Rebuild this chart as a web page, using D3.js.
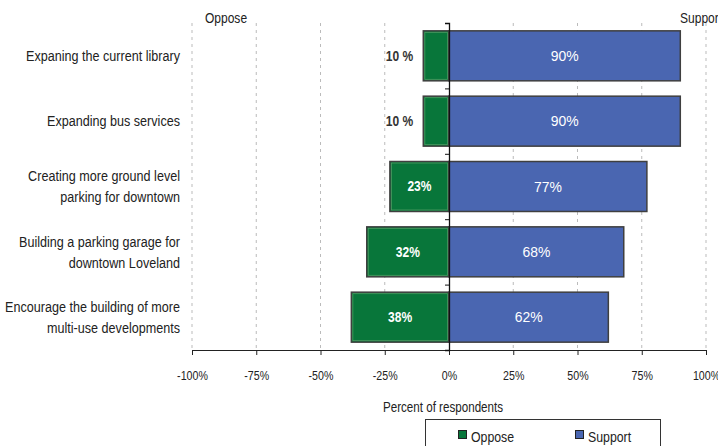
<!DOCTYPE html>
<html>
<head>
<meta charset="utf-8">
<script src="https://cdn.jsdelivr.net/npm/d3@7"></script>
<style>
body{margin:0;background:#fff}
text{font-family:"Liberation Sans",Arial,sans-serif;fill:#222}
</style>
</head>
<body>
<svg width="718" height="446"></svg>
<script>
// values
const categories = [
  ["Expaning the current library"],
  ["Expanding bus services"],
  ["Creating more ground level", "parking for downtown"],
  ["Building a parking garage for", "downtown Loveland"],
  ["Encourage the building of more", "multi-use developments"]
]
const oppose = [10, 10, 23, 32, 38]
const support = [90, 90, 77, 68, 62]
const tickValues = [-100, -75, -50, -25, 0, 25, 50, 75, 100]

const svg = d3.select("svg")
const plotTop = 23, plotBottom = 350, plotLeft = 192, plotRight = 706

const x = d3.scaleLinear().domain([-100, 100]).range([plotLeft, plotRight])
const y = d3.scaleBand().domain(d3.range(categories.length)).range([plotTop, plotBottom]).paddingInner(0.235).paddingOuter(0.12)

// the original text is squeezed sideways
function squeeze(px, py, s) { return `translate(${px},${py}) scale(${s},1)` }

// dashed gridlines
svg.append("g").selectAll("line")
  .data(tickValues.filter(d => d != 0))
  .join("line")
  .attr("x1", d => x(d)).attr("x2", d => x(d))
  .attr("y1", plotTop).attr("y2", plotBottom)
  .attr("stroke", "#bbb")
  .attr("stroke-dasharray", "3,4")

// bottom axis
const xAxis = d3.axisBottom(x).tickValues(tickValues).tickFormat(d => d + "%").tickSize(5).tickPadding(16)
const gx = svg.append("g").attr("transform", `translate(0,${plotBottom})`).call(xAxis)
gx.select(".domain").attr("stroke", "#222")
gx.selectAll(".tick line").attr("stroke", "#222")
gx.selectAll("text").style("font-size", "13px").attr("fill", "#222").attr("transform", "scale(0.82,1)")

// oppose bars
svg.append("g").selectAll("rect")
  .data(oppose)
  .join("rect")
  .attr("x", d => x(-d))
  .attr("y", (d, i) => y(i))
  .attr("width", d => x(0) - x(-d))
  .attr("height", y.bandwidth())
  .attr("fill", "#08763a")
  .attr("stroke", "#3f3f3f")
  .attr("stroke-width", 1.5)
svg.append("g").selectAll("rect")
  .data(oppose)
  .join("rect")
  .attr("x", d => x(-d) + 1.5)
  .attr("y", (d, i) => y(i) + 1.5)
  .attr("width", d => x(0) - x(-d) - 3)
  .attr("height", y.bandwidth() - 3)
  .attr("fill", "none")
  .attr("stroke", "#4f9a63")
  .attr("stroke-width", 0.8)

// support bars
svg.append("g").selectAll("rect")
  .data(support)
  .join("rect")
  .attr("x", x(0))
  .attr("y", (d, i) => y(i))
  .attr("width", d => x(d) - x(0))
  .attr("height", y.bandwidth())
  .attr("fill", "#4a66b1")
  .attr("stroke", "#3f3f3f")
  .attr("stroke-width", 1.5)

// zero line with category ticks
const yAxis = d3.axisLeft(d3.scaleLinear().domain([0, categories.length]).range([plotTop, plotBottom]))
  .ticks(categories.length).tickFormat("").tickSize(4)
const gy = svg.append("g").attr("transform", `translate(${x(0)},0)`).call(yAxis)
gy.select(".domain").attr("stroke", "#111").attr("stroke-width", 1.3)
gy.selectAll(".tick line").attr("stroke", "#111")

// oppose labels
svg.append("g").selectAll("text")
  .data(oppose)
  .join("text")
  .attr("transform", (d, i) => squeeze(d < 15 ? x(-d) - 10 : (x(-d) + x(0)) / 2, y(i) + y.bandwidth() / 2, 0.86))
  .attr("dy", "0.35em")
  .attr("text-anchor", d => d < 15 ? "end" : "middle")
  .style("font-size", "14px")
  .style("font-weight", "bold")
  .style("fill", d => d < 15 ? "#333" : "#fff")
  .text(d => d < 15 ? d + " %" : d + "%")

// support labels
svg.append("g").selectAll("text")
  .data(support)
  .join("text")
  .attr("transform", (d, i) => squeeze((x(0) + x(d)) / 2, y(i) + y.bandwidth() / 2, 0.93))
  .attr("dy", "0.35em")
  .attr("text-anchor", "middle")
  .style("font-size", "15px")
  .style("fill", "#fff")
  .text(d => d + "%")

// category labels
const cat = svg.append("g").selectAll("text")
  .data(categories)
  .join("text")
  .attr("text-anchor", "end")
  .style("font-size", "15px")
  .attr("transform", (d, i) => squeeze(180, y(i) + y.bandwidth() / 2, 0.84))
cat.selectAll("tspan")
  .data(d => d.map((t, k) => ({t: t, k: k, n: d.length})))
  .join("tspan")
  .attr("x", 0)
  .attr("dy", d => d.k == 0 ? ((0.35 - (d.n - 1) * 0.7) + "em") : "1.4em")
  .text(d => d.t)

// side headings
svg.append("text").attr("transform", squeeze(226, 23, 0.86)).attr("text-anchor", "middle").style("font-size", "14px").text("Oppose")
svg.append("text").attr("transform", squeeze(680, 23, 0.86)).style("font-size", "14px").text("Support")

// axis title
svg.append("text").attr("transform", squeeze(443, 412, 0.83)).attr("text-anchor", "middle").style("font-size", "14px").text("Percent of respondents")

// legend
const lg = svg.append("g")
lg.append("rect").attr("x", 425.5).attr("y", 419.5).attr("width", 235).attr("height", 40)
  .attr("fill", "#fff").attr("stroke", "#333")
const legendItems = [["Oppose", "#08763a", 458], ["Support", "#4a66b1", 575]]
legendItems.forEach(item => {
  lg.append("rect").attr("x", item[2] + 0.5).attr("y", 430.5).attr("width", 8).attr("height", 8)
    .attr("fill", item[1]).attr("stroke", "#222")
  lg.append("text").attr("transform", squeeze(item[2] + 13, 442, 0.88)).style("font-size", "14px").text(item[0])
})
</script>
</body>
</html>
